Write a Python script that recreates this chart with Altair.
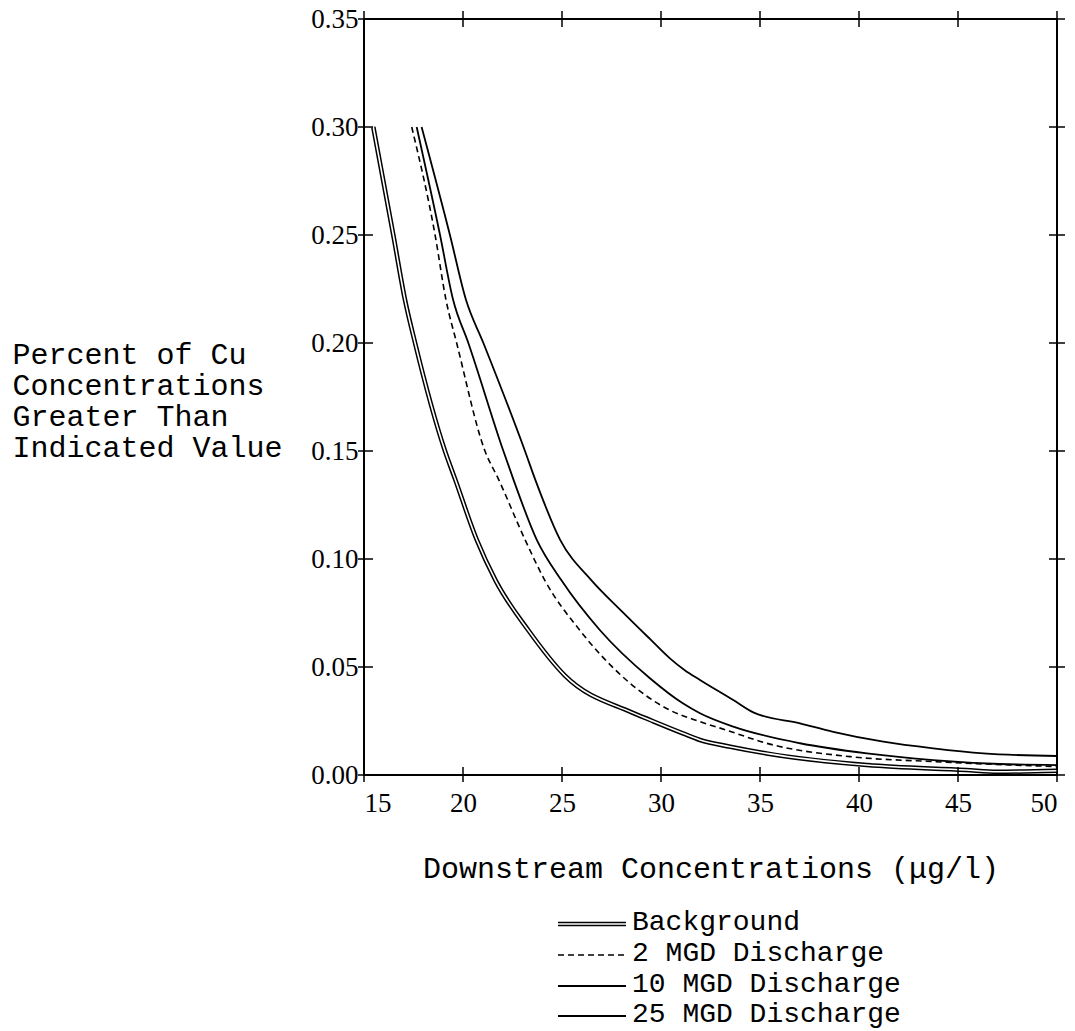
import altair as alt
import pandas as pd

# ---- data ----
x_ticks = [15, 20, 25, 30, 35, 40, 45, 50]
y_ticks = [0.00, 0.05, 0.10, 0.15, 0.20, 0.25, 0.30, 0.35]

series_names = ["Background", "2 MGD Discharge", "10 MGD Discharge", "25 MGD Discharge"]

bg_x = [15.47, 16.48, 17.07, 17.58, 19.09, 19.6, 20.69, 21.65, 23.3, 25.15, 28.52, 29.44, 31.1, 31.97, 33.5, 35.33, 40.4, 45.4, 47.0, 50.0]
bg_y = [0.30, 0.25, 0.22, 0.20, 0.15, 0.137, 0.109, 0.090, 0.067, 0.046, 0.029, 0.0255, 0.0193, 0.0162, 0.0131, 0.010, 0.0046, 0.0023, 0.0015, 0.002]

d2_x = [17.41, 18.59, 19.14, 19.68, 21.11, 21.79, 23.13, 24.14, 25.9, 28.0, 30.45, 31.97, 33.3, 35.33, 39.55, 43.75, 50.0]
d2_y = [0.30, 0.25, 0.22, 0.20, 0.15, 0.137, 0.109, 0.090, 0.067, 0.046, 0.030, 0.0247, 0.0208, 0.0147, 0.0085, 0.0062, 0.0039]

d10_x = [17.66, 18.84, 19.5, 20.27, 22.04, 22.54, 23.72, 24.98, 26.92, 29.44, 31.1, 31.97, 33.65, 37.02, 40.4, 43.75, 47.1, 50.0]
d10_y = [0.30, 0.25, 0.22, 0.20, 0.15, 0.137, 0.109, 0.090, 0.067, 0.0448, 0.0332, 0.0286, 0.0224, 0.0147, 0.010, 0.0069, 0.0051, 0.0046]

d25_x = [17.91, 19.34, 20.15, 21.03, 23.13, 23.64, 24.9, 26.5, 28.0, 29.44, 30.45, 31.2, 31.97, 33.65, 34.66, 37.02, 38.7, 41.23, 43.75, 46.28, 50.0]
d25_y = [0.30, 0.25, 0.22, 0.20, 0.15, 0.137, 0.109, 0.090, 0.076, 0.063, 0.054, 0.0485, 0.044, 0.0347, 0.0290, 0.0239, 0.020, 0.0154, 0.0123, 0.010, 0.0088]

x_title = "Downstream Concentrations (\u03bcg/l)"
y_title = ["Percent of Cu", "Concentrations", "Greater Than", "Indicated Value"]

# ---- layout ----
W, H = 693, 756
PAD_L, PAD_T = 364, 19
PAD_R = 1075 - PAD_L - W
PAD_B = 1031 - PAD_T - H
MONO = "Liberation Mono"
SERIF = "Liberation Serif"
TXT = 30
LEG_TXT = 28


def frame(xs, ys):
    return pd.DataFrame({"x": xs, "y": ys, "i": list(range(len(xs)))})


xs = alt.Scale(domain=[15, 50], nice=False, zero=False)
ys = alt.Scale(domain=[0, 0.35], nice=False)

x_axis = alt.Axis(values=x_ticks, format="d", ticks=False, domain=False, grid=False,
                  labelFont=SERIF, labelFontSize=27, labelPadding=15, labelColor="black",
                  title=x_title, titleFont=MONO, titleFontSize=TXT, titleFontWeight="normal",
                  titleColor="black", titleBaseline="alphabetic", titleY=102)
y_axis = alt.Axis(values=y_ticks, format=".2f", ticks=False, domain=False, grid=False,
                  labelFont=SERIF, labelFontSize=27, labelPadding=6, labelColor="black",
                  title=y_title, titleFont=MONO, titleFontSize=TXT, titleFontWeight="normal",
                  titleColor="black", titleAngle=0, titleAlign="left", titleBaseline="alphabetic",
                  titleX=-352, titleY=344, titleLineHeight=31)


def line_layer(df, **mk):
    return alt.Chart(df).mark_line(interpolate="monotone", **mk).encode(
        x=alt.X("x:Q", scale=xs, axis=x_axis),
        y=alt.Y("y:Q", scale=ys, axis=y_axis),
        order=alt.Order("i:Q"),
    )


df_bg = frame(bg_x, bg_y)
layers = [
    line_layer(df_bg, color="black", strokeWidth=4.6),
    line_layer(df_bg, color="white", strokeWidth=1.6),
    line_layer(frame(d2_x, d2_y), color="black", strokeWidth=1.6, strokeDash=[6, 4]),
    line_layer(frame(d10_x, d10_y), color="black", strokeWidth=1.8),
    line_layer(frame(d25_x, d25_y), color="black", strokeWidth=1.8),
]

# cross ticks on all four sides
dfx = pd.DataFrame({"x": x_ticks})
dfy = pd.DataFrame({"y": y_ticks})
for y0, y1 in [(H - 8, H + 7), (-8, 8)]:
    layers.append(alt.Chart(dfx).mark_rule(color="black", strokeWidth=1.5).encode(
        x=alt.X("x:Q", scale=xs, axis=x_axis), y=alt.value(y0), y2=alt.value(y1)))
for x0, x1 in [(-6, 9), (W - 8, W + 8)]:
    layers.append(alt.Chart(dfy).mark_rule(color="black", strokeWidth=1.5).encode(
        y=alt.Y("y:Q", scale=ys, axis=y_axis), x=alt.value(x0), x2=alt.value(x1)))

# hand-drawn legend below the plot
one = pd.DataFrame({"a": [0]})
leg_y = [905, 936, 967, 997]
lx0, lx1, ltx = 194, 262, 268
for k, name in enumerate(series_names):
    yy = leg_y[k]
    if k == 0:
        layers.append(alt.Chart(one).mark_rule(color="black", strokeWidth=4.6).encode(
            x=alt.value(lx0), x2=alt.value(lx1), y=alt.value(yy)))
        layers.append(alt.Chart(one).mark_rule(color="white", strokeWidth=1.6).encode(
            x=alt.value(lx0 - 1), x2=alt.value(lx1 + 1), y=alt.value(yy)))
    elif k == 1:
        layers.append(alt.Chart(one).mark_rule(color="black", strokeWidth=1.6, strokeDash=[6, 4]).encode(
            x=alt.value(lx0), x2=alt.value(lx1), y=alt.value(yy)))
    else:
        layers.append(alt.Chart(one).mark_rule(color="black", strokeWidth=1.8).encode(
            x=alt.value(lx0), x2=alt.value(lx1), y=alt.value(yy)))
    layers.append(alt.Chart(one).mark_text(align="left", baseline="middle", font=MONO,
                                           fontSize=LEG_TXT, color="black").encode(
        x=alt.value(ltx), y=alt.value(yy - 2), text=alt.value(name)))

chart = alt.layer(*layers).properties(
    width=W, height=H,
    autosize=alt.AutoSizeParams(type="none"),
    padding={"left": PAD_L, "top": PAD_T, "right": PAD_R, "bottom": PAD_B},
    background="white",
).configure_view(stroke="black", strokeWidth=2)

chart.save("out.html", embed_options={"renderer": "svg", "actions": False})
